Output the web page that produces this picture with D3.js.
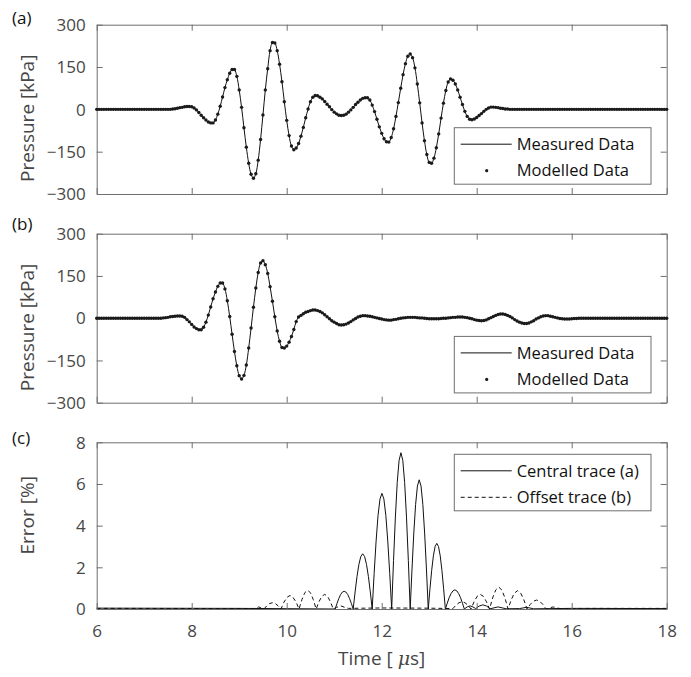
<!DOCTYPE html>
<html>
<head>
<meta charset="utf-8">
<script src="https://cdn.jsdelivr.net/npm/d3@7"></script>
<style>
  body { margin: 0; background: #fff; }
  svg { display: block; font-family: 'Open Sans', sans-serif; }
  .axis path, .axis line { stroke: #6f6f6f; }
  .axis text { fill: #474747; font-size: 17px; font-family: 'Open Sans', sans-serif; }
  .lbl { fill: #474747; }
</style>
</head>
<body>
<svg id="chart" width="691" height="677"></svg>
<script>
(function() {
    'use strict';
    var STEP = 0.05;
    var xTicks = [6, 8, 10, 12, 14, 16, 18];
    var pressureTicks = [-300, -150, 0, 150, 300];
    var errorTicks = [0, 2, 4, 6, 8];

    // (a) central trace, kPa every 0.05 us from 7.50 us (zero elsewhere)
    var startA = 7.5;
    var pressureA = [
        0, 0, 1, 2, 4, 6, 7, 9, 10, 10,
        9, 5, -2, -11, -21, -30, -38, -45, -48, -48,
        -38, -17, 11, 44, 77, 105, 128, 141, 141, 117,
        69, 7, -65, -134, -191, -230, -244, -228, -180, -107,
        -20, 69, 144, 208, 237, 235, 208, 160, 98, 27,
        -39, -93, -130, -143, -137, -121, -95, -64, -30, 1,
        27, 43, 49, 48, 43, 37, 28, 18, 9, -1,
        -10, -16, -21, -22, -21, -17, -10, -2, 7, 17,
        25, 33, 39, 41, 41, 33, 15, -8, -35, -62,
        -85, -104, -115, -116, -100, -69, -25, 24, 75, 123,
        162, 188, 196, 183, 147, 90, 23, -48, -111, -160,
        -188, -191, -173, -136, -87, -31, 22, 67, 97, 108,
        103, 90, 69, 43, 17, -7, -25, -35, -37, -34,
        -29, -22, -15, -7, 0, 5, 8, 8, 7, 6,
        4, 3, 1, 1, 0
    ];

    // (b) offset trace, kPa every 0.05 us from 7.30 us
    var startB = 7.3;
    var pressureB = [
        0, 0, 1, 2, 3, 5, 6, 7, 8, 8,
        7, 3, -5, -13, -22, -31, -37, -41, -41, -32,
        -14, 11, 40, 69, 93, 113, 125, 125, 104, 62,
        6, -57, -118, -169, -204, -216, -203, -166, -106, -35,
        39, 107, 162, 196, 204, 190, 159, 112, 60, 5,
        -45, -82, -104, -106, -99, -85, -65, -40, -12, 4,
        10, 16, 21, 24, 27, 29, 29, 27, 24, 19,
        12, 5, -2, -9, -14, -19, -23, -24, -23, -21,
        -17, -12, -6, -1, 4, 7, 9, 9, 8, 7,
        5, 3, 1, -1, -3, -5, -6, -7, -7, -5,
        -4, -2, 0, 1, 2, 3, 3, 3, 3, 2,
        1, 1, 0, -1, -2, -2, -2, -2, -2, -1,
        0, 0, 1, 2, 3, 3, 4, 4, 4, 3,
        2, 0, -2, -5, -7, -8, -9, -8, -6, -2,
        2, 6, 10, 13, 15, 15, 13, 10, 6, 1,
        -5, -10, -14, -17, -19, -19, -17, -13, -9, -3,
        1, 5, 8, 9, 9, 7, 5, 3, 1, -1,
        -2, -3, -3, -3, -2, -1, -1, 0, 0
    ];

    // (c) error [%] as [time, value]
    var errorCentral = [
        [6, 0.04], [9, 0.03], [11.02, 0],
        [11.058, 0.26], [11.096, 0.5], [11.134, 0.69], [11.172, 0.81], [11.21, 0.85], [11.248, 0.81], [11.286, 0.69], [11.324, 0.5], [11.362, 0.26], [11.40, 0],
        [11.44, 0.82], [11.48, 1.56], [11.52, 2.14], [11.56, 2.52], [11.60, 2.65], [11.64, 2.52], [11.68, 2.14], [11.72, 1.56], [11.76, 0.82], [11.80, 0],
        [11.841, 1.71], [11.882, 3.26], [11.923, 4.49], [11.964, 5.28], [12.005, 5.55], [12.046, 5.28], [12.087, 4.49], [12.128, 3.26], [12.169, 1.71], [12.21, 0],
        [12.249, 2.32], [12.288, 4.41], [12.327, 6.07], [12.366, 7.13], [12.405, 7.5], [12.444, 7.13], [12.483, 6.07], [12.522, 4.41], [12.561, 2.32], [12.60, 0],
        [12.638, 1.92], [12.676, 3.65], [12.714, 5.02], [12.752, 5.9], [12.79, 6.2], [12.828, 5.9], [12.866, 5.02], [12.904, 3.65], [12.942, 1.92], [12.98, 0],
        [13.016, 0.97], [13.052, 1.85], [13.088, 2.55], [13.124, 3.0], [13.16, 3.15], [13.196, 3.0], [13.232, 2.55], [13.268, 1.85], [13.304, 0.97], [13.34, 0],
        [13.38, 0.28], [13.42, 0.54], [13.46, 0.74], [13.50, 0.87], [13.54, 0.92], [13.58, 0.87], [13.62, 0.74], [13.66, 0.54], [13.70, 0.28], [13.74, 0],
        [13.80, 0.1], [13.86, 0.15], [13.92, 0.1], [13.98, 0.02],
        [14.05, 0.14], [14.13, 0.2], [14.21, 0.14], [14.28, 0.01],
        [14.45, 0.1], [14.62, 0.01], [14.9, 0.02], [15.05, 0.08], [15.2, 0.01],
        [16, 0.03], [18, 0.02]
    ];
    var errorOffset = [
        [6, 0.03], [9.3, 0.02],
        [9.36, 0.05], [9.41, 0.1], [9.46, 0.05], [9.52, 0],
        [9.58, 0.15], [9.64, 0.26], [9.70, 0.3], [9.76, 0.26], [9.82, 0.15], [9.88, 0],
        [9.943, 0.33], [10.007, 0.56], [10.07, 0.65], [10.133, 0.56], [10.197, 0.33], [10.26, 0],
        [10.32, 0.45], [10.38, 0.78], [10.44, 0.9], [10.50, 0.78], [10.56, 0.45], [10.62, 0],
        [10.68, 0.35], [10.74, 0.61], [10.80, 0.7], [10.86, 0.61], [10.92, 0.35], [10.98, 0],
        [11.05, 0.08], [11.14, 0.15], [11.22, 0.08], [11.30, 0.03],
        [12.0, 0.05], [13.0, 0.04], [13.5, 0.02],
        [13.563, 0.18], [13.627, 0.3], [13.69, 0.35], [13.753, 0.3], [13.817, 0.18], [13.88, 0],
        [13.945, 0.35], [14.01, 0.61], [14.075, 0.7], [14.14, 0.61], [14.205, 0.35], [14.27, 0],
        [14.335, 0.53], [14.40, 0.91], [14.465, 1.05], [14.53, 0.91], [14.595, 0.53], [14.66, 0],
        [14.727, 0.44], [14.793, 0.76], [14.86, 0.88], [14.927, 0.76], [14.993, 0.44], [15.06, 0],
        [15.127, 0.22], [15.193, 0.37], [15.26, 0.43], [15.327, 0.37], [15.393, 0.22], [15.46, 0],
        [15.53, 0.05], [15.61, 0.1], [15.69, 0.05], [15.76, 0.02],
        [16.5, 0.03], [18, 0.03]
    ];

    var svg = d3.select('#chart');
    var x = d3.scaleLinear().domain([6, 18]).range([96.7, 666.7]);
    var panels = [
        {id: 'a', top: 24.7, bottom: 194, labelY: 118.3, tagY: 23.5},
        {id: 'b', top: 233.7, bottom: 402.7, labelY: 327.5, tagY: 229.5},
        {id: 'c', top: 442.3, bottom: 609, labelY: 515.3, tagY: 443.5}
    ];

    var series = function(start, values) {
        return d3.range(Math.round(12 / STEP) + 1).map(function(i) {
            var t = 6 + i * STEP, k = Math.round((t - start) / STEP);
            return {t: t, v: (k >= 0 && k < values.length) ? values[k] : 0};
        });
    };

    var drawAxes = function(p, y, ticks, showX) {
        var g = svg.append('g');
        g.append('g').attr('class', 'axis').attr('transform', 'translate(0,' + p.bottom + ')')
            .call(d3.axisBottom(x).tickValues(xTicks).tickSize(-6).tickSizeOuter(0).tickPadding(16)
                .tickFormat(showX ? d3.format('d') : ''));
        g.append('g').attr('class', 'axis').attr('transform', 'translate(0,' + p.top + ')')
            .call(d3.axisTop(x).tickValues(xTicks).tickSize(-6).tickSizeOuter(0).tickFormat(''));
        g.append('g').attr('class', 'axis').attr('transform', 'translate(' + x.range()[0] + ',0)')
            .call(d3.axisLeft(y).tickValues(ticks).tickSize(-6).tickSizeOuter(0).tickPadding(11));
        g.append('g').attr('class', 'axis').attr('transform', 'translate(' + x.range()[1] + ',0)')
            .call(d3.axisRight(y).tickValues(ticks).tickSize(-6).tickSizeOuter(0).tickFormat(''));
        g.selectAll('.tick text').attr('dy', function() {
            return d3.select(this.parentNode.parentNode).attr('transform').indexOf('translate(0') === 0 ? '0.71em' : '0.34em';
        });
        svg.append('text').attr('x', 12).attr('y', p.tagY).attr('font-size', 17).attr('fill', '#111')
            .text('(' + p.id + ')');
    };

    var yLabel = function(p, txt) {
        svg.append('text').attr('class', 'lbl').attr('font-size', 19).attr('text-anchor', 'middle')
            .attr('transform', 'translate(34,' + p.labelY + ') rotate(-90)').text(txt);
    };

    var legend = function(top, rows) {
        var g = svg.append('g').attr('transform', 'translate(454.3,' + top + ')');
        g.append('rect').attr('width', 196.7).attr('height', 56.5)
            .attr('fill', '#fff').attr('stroke', '#6f6f6f').attr('stroke-width', 1);
        rows.forEach(function(r, i) {
            var cy = 16.5 + i * 26.5;
            if (r.type === 'dot') {
                g.append('circle').attr('cx', 32.4).attr('cy', cy).attr('r', 1.6).attr('fill', '#1a1a1a');
            } else {
                g.append('line').attr('x1', 6.4).attr('x2', 57.4).attr('y1', cy).attr('y2', cy)
                    .attr('stroke', '#111').attr('stroke-width', 1)
                    .attr('stroke-dasharray', r.type === 'dash' ? '4,3' : null);
            }
            g.append('text').attr('x', 62.4).attr('y', cy).attr('dy', '0.35em')
                .attr('font-size', 16.5).attr('fill', '#111').text(r.text);
        });
    };

    var pressurePanel = function(p, start, values) {
        var y = d3.scaleLinear().domain([-300, 300]).range([p.bottom, p.top]);
        var data = series(start, values);
        drawAxes(p, y, pressureTicks, false);
        svg.append('path').datum(data)
            .attr('fill', 'none').attr('stroke', '#111').attr('stroke-width', 1)
            .attr('d', d3.line().x(function(d) { return x(d.t); }).y(function(d) { return y(d.v); })
                .curve(d3.curveCatmullRom));
        svg.append('g').selectAll('circle').data(data).enter().append('circle')
            .attr('cx', function(d) { return x(d.t); })
            .attr('cy', function(d) { return y(d.v); })
            .attr('r', 1.7).attr('fill', '#1a1a1a');
        yLabel(p, 'Pressure [kPa]');
        legend(p.bottom - 66.3, [
            {type: 'line', text: 'Measured Data'},
            {type: 'dot', text: 'Modelled Data'}
        ]);
    };

    pressurePanel(panels[0], startA, pressureA);
    pressurePanel(panels[1], startB, pressureB);

    // (c) error
    var pc = panels[2];
    var yc = d3.scaleLinear().domain([0, 8]).range([pc.bottom, pc.top]);
    var errLine = d3.line().x(function(d) { return x(d[0]); }).y(function(d) { return yc(d[1]); });
    svg.append('path').datum(errorOffset).attr('fill', 'none').attr('stroke', '#111')
        .attr('stroke-width', 1).attr('stroke-dasharray', '4,3').attr('d', errLine);
    svg.append('path').datum(errorCentral).attr('fill', 'none').attr('stroke', '#111')
        .attr('stroke-width', 1).attr('d', errLine);
    drawAxes(pc, yc, errorTicks, true);
    yLabel(pc, 'Error [%]');
    legend(454.3, [
        {type: 'line', text: 'Central trace (a)'},
        {type: 'dash', text: 'Offset trace (b)'}
    ]);

    var xl = svg.append('text').attr('class', 'lbl').attr('font-size', 19).attr('text-anchor', 'middle')
        .attr('x', (x.range()[0] + x.range()[1]) / 2).attr('y', 665);
    xl.append('tspan').text('Time [ ');
    xl.append('tspan').attr('font-style', 'italic').attr('font-family', 'DejaVu Serif, serif').text('μ');
    xl.append('tspan').text('s]');
}());
</script>
</body>
</html>
